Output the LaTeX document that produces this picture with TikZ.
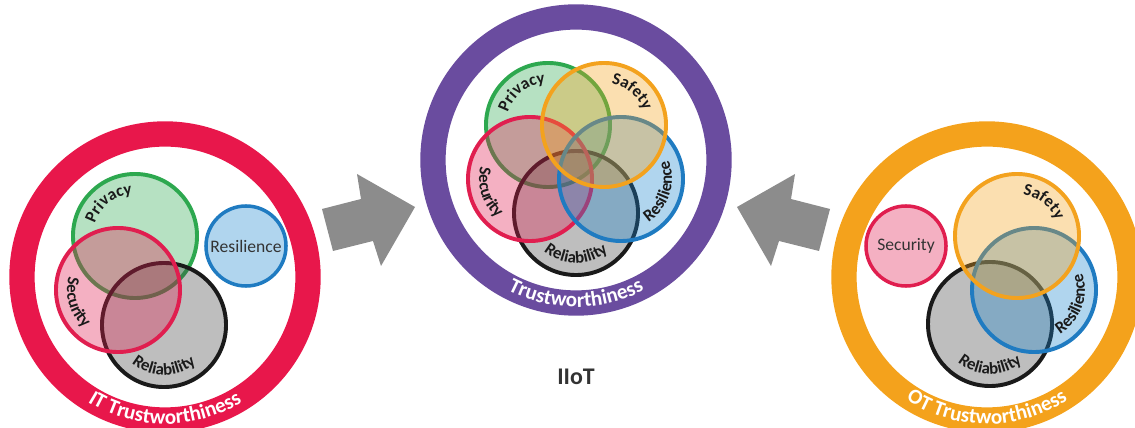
\documentclass[tikz,border=0pt]{standalone}
\usepackage{fontspec}
\setmainfont{Carlito}
\usetikzlibrary{decorations.text}

\definecolor{itred}{HTML}{E8174B}
\definecolor{iiotpurple}{HTML}{6A4C9F}
\definecolor{otorange}{HTML}{F4A21C}
\definecolor{privgreen}{HTML}{2DA84F}
\definecolor{secred}{HTML}{E01E4F}
\definecolor{resblue}{HTML}{1F7BC1}
\definecolor{resfill}{HTML}{1D86CE}
\definecolor{safeorange}{HTML}{F3A21E}
\definecolor{relblack}{HTML}{1A1A1A}
\definecolor{relfill}{HTML}{454545}
\definecolor{arrowgray}{HTML}{8C8C8C}
\definecolor{iiotgray}{HTML}{333333}

\newcommand\vennfont{\bfseries\fontsize{12}{14}\selectfont}
\newcommand\ringfont{\bfseries\fontsize{15}{18}\selectfont}

\tikzset{
  ring/.style={circle, draw=#1, line width=18pt, minimum size=7.15cm, inner sep=0pt, outer sep=0pt},
  venn/.style 2 args={circle, draw=#1, fill=#2, fill opacity=0.35, text opacity=1, line width=2.8pt, minimum size=3.1cm, inner sep=0pt, outer sep=0pt},
  smallvenn/.style 2 args={circle, draw=#1, fill=#2, fill opacity=0.35, text opacity=1, line width=2.5pt, minimum size=2cm, inner sep=0pt, text=iiotgray, font=\fontsize{12.5}{14}\selectfont},
  arclabel/.style={decorate, decoration={text along path, text align=center, text color=relblack, text={#1}}},
  ringlabel/.style={decorate, decoration={text along path, text align=center, text color=white, text={#1}}},
  bigarrow/.style={fill=arrowgray, draw=none}
}

\begin{document}
\begin{tikzpicture}[x=0.025cm, y=0.025cm]
  \useasboundingbox (0,0) rectangle (1135,427);
  \clip (0,0) rectangle (1135,427);

  % outer rings
  \node[ring=itred] (itring) at (165,150) {};
  \node[ring=iiotpurple] (iiotring) at (576,267) {};
  \node[ring=otorange] (otring) at (987,150) {};

  % IT trustworthiness
  \node[venn={privgreen}{privgreen}] (privL) at (135,191) {};
  \node[venn={relblack}{relfill}] (relL) at (164,102) {};
  \node[venn={secred}{secred}] (secL) at (118,137) {};
  \node[smallvenn={resblue}{resfill}] (resL) at (246,181) {Resilience};

  \path[arclabel={|\vennfont|Privacy}] (privL.center) ++(178:42) arc[start angle=178, end angle=78, radius=42];
  \path[arclabel={|\vennfont|Security}] (secL.center) ++(137:51) arc[start angle=137, end angle=257, radius=51];
  \path[arclabel={|\vennfont|Reliability}] (relL.center) ++(210:50) arc[start angle=210, end angle=330, radius=50];
  \path[ringlabel={|\ringfont|IT Trustworthiness}] (itring.center) ++(200:147) arc[start angle=200, end angle=340, radius=147];

  % IIoT trustworthiness
  \node[venn={privgreen}{privgreen}] (privM) at (548,302) {};
  \node[venn={relblack}{relfill}] (relM) at (576,214) {};
  \node[venn={secred}{secred}] (secM) at (530,248) {};
  \node[venn={resblue}{resfill}] (resM) at (621,248) {};
  \node[venn={safeorange}{safeorange}] (safM) at (604,302) {};

  \path[arclabel={|\vennfont|Privacy}] (privM.center) ++(178:42) arc[start angle=178, end angle=78, radius=42];
  \path[arclabel={|\vennfont|Safety}] (safM.center) ++(100:42) arc[start angle=100, end angle=0, radius=42];
  \path[arclabel={|\vennfont|Security}] (secM.center) ++(138:51) arc[start angle=138, end angle=258, radius=51];
  \path[arclabel={|\vennfont|Resilience}] (resM.center) ++(282:51) arc[start angle=282, end angle=402, radius=51];
  \path[arclabel={|\vennfont|Reliability}] (relM.center) ++(210:50) arc[start angle=210, end angle=330, radius=50];
  \path[ringlabel={|\ringfont|Trustworthiness}] (iiotring.center) ++(200:147) arc[start angle=200, end angle=340, radius=147];

  % OT trustworthiness
  \node[venn={relblack}{relfill}] (relR) at (990,103) {};
  \node[venn={resblue}{resfill}] (resR) at (1034,137) {};
  \node[venn={safeorange}{safeorange}] (safR) at (1017,191) {};
  \node[smallvenn={secred}{secred}] (secR) at (906,181) {Security};

  \path[arclabel={|\vennfont|Safety}] (safR.center) ++(102:42) arc[start angle=102, end angle=2, radius=42];
  \path[arclabel={|\vennfont|Resilience}] (resR.center) ++(280:51) arc[start angle=280, end angle=400, radius=51];
  \path[arclabel={|\vennfont|Reliability}] (relR.center) ++(210:50) arc[start angle=210, end angle=330, radius=50];
  \path[ringlabel={|\ringfont|OT Trustworthiness}] (otring.center) ++(200:147) arc[start angle=200, end angle=340, radius=147];

  % arrows into the middle
  \fill[bigarrow] (322,218) -- (333,176) -- (373,186) -- (381,161) -- (415,220) -- (357,253) -- (361,228) -- cycle;
  \fill[bigarrow] (830,218) -- (819,176) -- (779,186) -- (771,161) -- (737,220) -- (795,253) -- (791,228) -- cycle;

  \node[font=\bfseries\fontsize{17}{20}\selectfont, text=iiotgray] (iiot) at (576,50) {IIoT};
\end{tikzpicture}
\end{document}
